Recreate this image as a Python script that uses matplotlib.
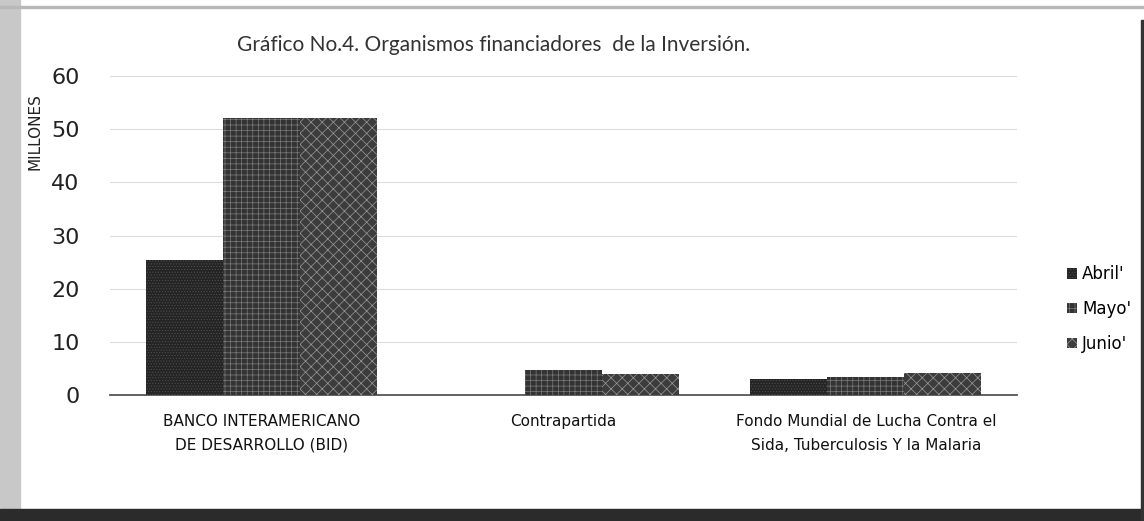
import matplotlib.pyplot as plt
import numpy as np
from matplotlib.patches import Rectangle

categories = ['BANCO INTERAMERICANO\nDE DESARROLLO (BID)', 'Contrapartida',
              'Fondo Mundial de Lucha Contra el\nSida, Tuberculosis Y la Malaria']
series = ["Abril'", "Mayo'", "Junio'"]
abril = [25.3, 0.0, 3.0]
mayo = [52.1, 4.7, 3.4]
junio = [52.1, 3.9, 4.2]
yticks = [0, 10, 20, 30, 40, 50, 60]

plt.rcParams['hatch.linewidth'] = 0.5

fig = plt.figure(figsize=(11.44, 5.21), dpi=100)
fig.patch.set_facecolor('white')

# scan-like frame around the chart
fig.patches.append(Rectangle((0, 0), 20 / 1144, 1, transform=fig.transFigure,
                             color='#c8c8c8', zorder=0))
fig.patches.append(Rectangle((0, 0), 1, 12 / 521, transform=fig.transFigure,
                             color='#2b2b2b', zorder=0))
fig.patches.append(Rectangle((0, 1 - 8 / 521), 1, 2 / 521, transform=fig.transFigure,
                             color='#b8b8b8', zorder=0))
fig.patches.append(Rectangle((1 - 3 / 1144, 0), 3 / 1144, 1 - 20 / 521,
                             transform=fig.transFigure, color='#333333', zorder=0))

ax = fig.add_axes([110 / 1144, 1 - 395 / 521, 907 / 1144, 319 / 521])

x = np.arange(len(categories))
w = 0.255
styles = [
    dict(facecolor='#242424', edgecolor='#4e4e4e', hatch='......'),
    dict(facecolor='#333333', edgecolor='#7c7c7c', hatch='+++'),
    dict(facecolor='#3c3c3c', edgecolor='#9a9a9a', hatch='xxx'),
]
for i, (name, vals) in enumerate(zip(series, [abril, mayo, junio])):
    ax.bar(x + (i - 1) * w, vals, w, label=name, linewidth=0, zorder=3, **styles[i])

ax.set_xlim(-0.5, 2.5)
ax.set_ylim(0, 60)
ax.set_yticks(yticks)
ax.grid(axis='y', color='#dcdcdc', linewidth=0.8, zorder=0)
for s in ['top', 'right', 'left']:
    ax.spines[s].set_visible(False)
ax.spines['bottom'].set_color('#555555')
ax.spines['bottom'].set_linewidth(1.3)
ax.tick_params(length=0)
ax.tick_params(axis='y', labelsize=16, pad=22, labelcolor='#222222')
ax.set_xticks(x)
ax.set_xticklabels(categories, fontsize=11, linespacing=1.7, color='#111111')
ax.tick_params(axis='x', pad=14)

fig.text(35 / 1144, 1 - 132 / 521, 'MILLONES', rotation=90, fontsize=11,
         ha='center', va='center', color='#222222')
fig.text(494 / 1144, 1 - 45 / 521,
         'Gráfico No.4. Organismos financiadores  de la Inversión.',
         fontsize=15, ha='center', va='center', color='#333333', family='Lato')

fig.legend(loc='center left', bbox_to_anchor=(1052 / 1144, 1 - 309 / 521),
           frameon=False, fontsize=12, handlelength=0.6, handleheight=0.6,
           handletextpad=0.3, labelspacing=1.0)

fig.savefig('out.png', dpi=100)
